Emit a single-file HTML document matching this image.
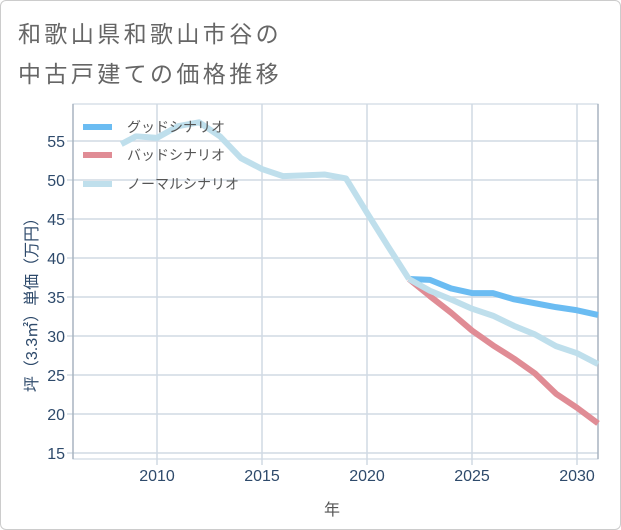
<!DOCTYPE html>
<html><head><meta charset="utf-8"><style>
body{margin:0;background:#fff;}
#card{position:absolute;left:0;top:0;width:619px;height:528px;border:1px solid #ccc;border-radius:6px;background:#fff;overflow:hidden;}
.t{font-family:"Liberation Sans","Noto Sans CJK JP",sans-serif;}
</style></head><body>
<div id="card">
<svg width="621" height="530">
<text class="t" x="17" y="41" font-size="23" letter-spacing="3.4" fill="#666">和歌山県和歌山市谷の</text>
<text class="t" x="17" y="81" font-size="23" letter-spacing="3.4" fill="#666">中古戸建ての価格推移</text>
<g id="grid"></g><g id="axes"></g><g id="series"></g>
<text class="t" x="331" y="514" font-size="16" fill="#555" text-anchor="middle">年</text>
<text class="t" transform="translate(36,300) rotate(-90)" font-size="16" fill="#2e4a6b" text-anchor="middle">坪（3.3㎡）単価（万円）</text>
<g>
<line x1="82" y1="126" x2="111" y2="126" stroke="#6bbcf2" stroke-width="6"/>
<text class="t" x="126" y="131" font-size="14" fill="#555">グッドシナリオ</text>
<line x1="82" y1="154" x2="111" y2="154" stroke="#e08c95" stroke-width="6"/>
<text class="t" x="126" y="159" font-size="14" fill="#555">バッドシナリオ</text>
<line x1="82" y1="183" x2="111" y2="183" stroke="#bfdfec" stroke-width="6"/>
<text class="t" x="126" y="188" font-size="14" fill="#555">ノーマルシナリオ</text>
</g>
</svg></div>
<script>
const yTicks=[15,20,25,30,35,40,45,50,55];
const xTicks=[2010,2015,2020,2025,2030];
const histYears=[2008.3,2009,2010,2011,2012,2013,2014,2015,2016,2017,2018,2019,2020,2021,2022];
const histValues=[54.6,55.6,55.4,56.9,57.4,55.6,52.8,51.4,50.5,50.6,50.7,50.2,45.8,41.5,37.3];
const futYears=[2022,2023,2024,2025,2026,2027,2028,2029,2030,2031];
const goodValues=[37.3,37.2,36.1,35.5,35.5,34.7,34.2,33.7,33.3,32.7];
const badValues=[37.3,35.1,33.0,30.7,28.8,27.1,25.2,22.6,20.8,18.8];
const normalValues=[37.3,35.8,34.7,33.5,32.6,31.3,30.2,28.7,27.8,26.4];
const NS='http://www.w3.org/2000/svg';
const X=y=>366+21*(y-2020), Y=v=>179-7.8*(v-50);
const L=72,R=597,T=103,B=458;
function mk(tag,attrs,parent){const e=document.createElementNS(NS,tag);for(const k in attrs)e.setAttribute(k,attrs[k]);parent.appendChild(e);return e;}
const grid=document.getElementById('grid'),axes=document.getElementById('axes'),ser=document.getElementById('series');
mk('rect',{x:L,y:T,width:R-L,height:B-T,fill:'none',stroke:'#c5d0dc'},grid);
yTicks.forEach(v=>{const l=mk('line',{x1:L-6,x2:R,y1:Y(v),y2:Y(v),stroke:'#d0dae4','stroke-width':1.5},grid);


const t=mk('text',{x:L-8,y:Y(v)+6,'text-anchor':'end','font-size':16,fill:'#2e4a6b',class:'t'},axes);t.textContent=v;

});
xTicks.forEach(v=>{const l=mk('line',{x1:X(v),x2:X(v),y1:T,y2:B+6,stroke:'#d0dae4','stroke-width':1.5},grid);


const t=mk('text',{x:X(v),y:B+22,'text-anchor':'middle','font-size':16,fill:'#2e4a6b',class:'t'},axes);t.textContent=v;

});
mk('line',{x1:L,x2:L,y1:T,y2:B,stroke:'#a8b4c0','stroke-width':1.5},axes);
mk('line',{x1:R,x2:R,y1:T,y2:B,stroke:'#a8b4c0','stroke-width':1.5},axes);
function line(xs,vs,color,name){const p=mk('polyline',{points:xs.map((y,i)=>X(y)+','+Y(vs[i])).join(' '),fill:'none',stroke:color,'stroke-width':6,'stroke-linejoin':'round'},ser);

}
line(futYears,badValues,'#e08c95','bad-scenario-line');
line(futYears,goodValues,'#6bbcf2','good-scenario-line');
line(histYears,histValues,'#bfdfec','historical-line');
line(futYears,normalValues,'#bfdfec','normal-scenario-line');
</script>
</body></html>
